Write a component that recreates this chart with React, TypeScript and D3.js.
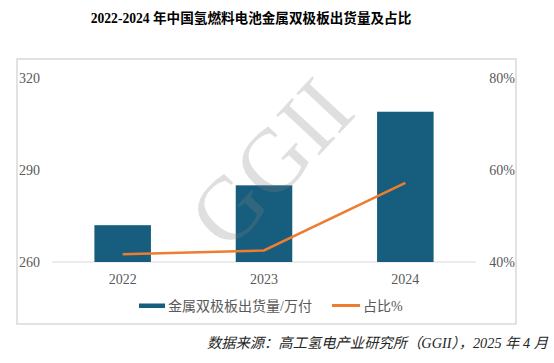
import { useEffect, useRef } from 'react';
import * as d3 from 'd3';

const years = ['2022', '2023', '2024'];
const shipments = [272, 285, 309]; // 金属双极板出货量/万付
const shares = [0.417, 0.425, 0.572]; // 占比%
const leftTicks = [260, 290, 320];
const rightTicks = [0.4, 0.6, 0.8];

const W = 554;
const H = 363;
const BAR = '#175e7e';
const ORANGE = '#ed7d31';
const GRID = '#d9d9d9';
const LABEL = '#595959';
const SERIF = '"Times New Roman", "Liberation Serif", "Noto Sans CJK SC", serif';

export default function App() {
  const svgRef = useRef<SVGSVGElement>(null);

  useEffect(() => {
    if (!svgRef.current) return;
    const svg = d3.select(svgRef.current);
    svg.selectAll('*').remove();

    const x = d3.scaleBand<string>().domain(years).range([52, 476]).paddingInner(0.6).paddingOuter(0.3);
    const yL = d3.scaleLinear().domain([260, 320]).range([262, 78]);
    const yR = d3.scaleLinear().domain([0.4, 0.8]).range([262, 78]);

    // title
    svg.append('text')
      .attr('x', 251).attr('y', 23)
      .attr('text-anchor', 'middle')
      .attr('font-family', SERIF)
      .attr('font-weight', 'bold')
      .attr('font-size', 13.6)
      .attr('fill', '#000')
      .text('2022-2024 年中国氢燃料电池金属双极板出货量及占比');

    // frame
    svg.append('rect')
      .attr('x', 17).attr('y', 59).attr('width', 499).attr('height', 265)
      .attr('fill', 'none').attr('stroke', GRID).attr('stroke-width', 1.5);

    // baseline
    svg.append('line')
      .attr('x1', 52).attr('x2', 476)
      .attr('y1', yL(260)).attr('y2', yL(260))
      .attr('stroke', GRID).attr('stroke-width', 1);

    // bars
    svg.append('g')
      .selectAll('rect')
      .data(shipments)
      .enter()
      .append('rect')
      .attr('x', (_, i) => x(years[i])!)
      .attr('y', d => yL(d))
      .attr('width', x.bandwidth())
      .attr('height', d => yL(260) - yL(d))
      .attr('fill', BAR);

    // share line
    const line = d3.line<number>()
      .x((_, i) => x(years[i])! + x.bandwidth() / 2)
      .y(d => yR(d));
    svg.append('path')
      .datum(shares)
      .attr('d', line)
      .attr('fill', 'none')
      .attr('stroke', ORANGE)
      .attr('stroke-width', 2.5);

    // watermark
    svg.append('text')
      .attr('transform', 'translate(270,162) rotate(-47)')
      .attr('text-anchor', 'middle')
      .attr('dy', '0.35em')
      .attr('font-family', SERIF)
      .attr('font-size', 90)
      .attr('fill', '#808080')
      .attr('fill-opacity', 0.25)
      .text('GGII');

    // left axis labels
    svg.append('g')
      .selectAll('text')
      .data(leftTicks)
      .enter()
      .append('text')
      .attr('x', 19)
      .attr('y', d => yL(d))
      .attr('dy', '0.35em')
      .attr('font-family', SERIF)
      .attr('font-size', 14)
      .attr('fill', LABEL)
      .text(d => String(d));

    // right axis labels
    svg.append('g')
      .selectAll('text')
      .data(rightTicks)
      .enter()
      .append('text')
      .attr('x', 515)
      .attr('y', d => yR(d))
      .attr('dy', '0.35em')
      .attr('text-anchor', 'end')
      .attr('font-family', SERIF)
      .attr('font-size', 14)
      .attr('fill', LABEL)
      .text(d => d3.format('.0%')(d));

    // x labels
    svg.append('g')
      .selectAll('text')
      .data(years)
      .enter()
      .append('text')
      .attr('x', d => x(d)! + x.bandwidth() / 2)
      .attr('y', 284)
      .attr('text-anchor', 'middle')
      .attr('font-family', SERIF)
      .attr('font-size', 14)
      .attr('fill', LABEL)
      .text(d => d);

    // legend
    const lg = svg.append('g').attr('font-family', SERIF).attr('font-size', 14).attr('fill', LABEL);
    lg.append('rect').attr('x', 139).attr('y', 303.5).attr('width', 26).attr('height', 4.5).attr('fill', BAR);
    lg.append('text').attr('x', 168).attr('y', 306).attr('dy', '0.35em').text('金属双极板出货量/万付');
    lg.append('line').attr('x1', 332).attr('x2', 360).attr('y1', 305.5).attr('y2', 305.5)
      .attr('stroke', ORANGE).attr('stroke-width', 3);
    lg.append('text').attr('x', 363).attr('y', 306).attr('dy', '0.35em').text('占比%');

    // source
    svg.append('text')
      .attr('x', 548).attr('y', 348)
      .attr('text-anchor', 'end')
      .attr('font-family', SERIF)
      .attr('font-style', 'italic')
      .attr('font-size', 14.3)
      .attr('fill', '#262626')
      .text('数据来源：高工氢电产业研究所（GGII），2025 年 4 月');
  }, []);

  return (
    <div style={{ position: 'fixed', left: 0, top: 0, width: W, height: H, background: '#fff' }}>
      <svg ref={svgRef} width={W} height={H}></svg>
    </div>
  );
}
